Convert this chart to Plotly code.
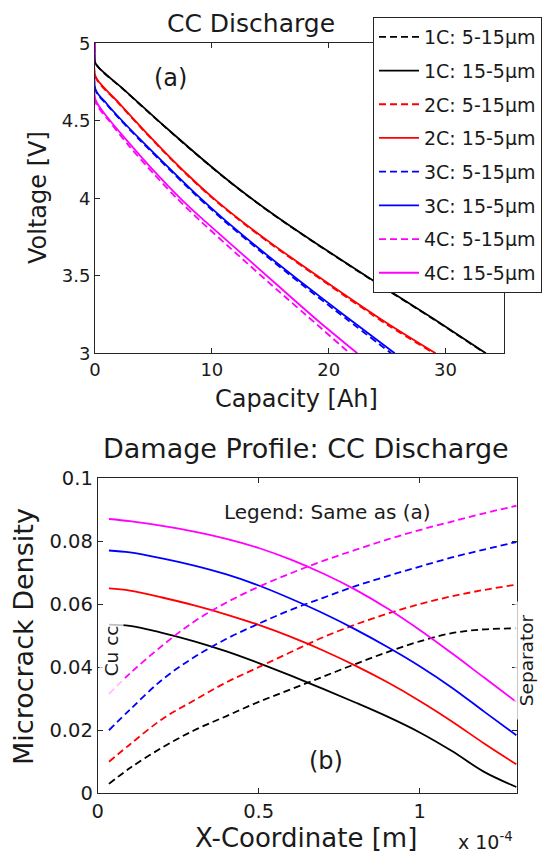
import plotly.graph_objects as go

W, H = 548, 857
FONT = "DejaVu Sans"
TXT = "#1a1a1a"

# ---------------- (a) CC discharge: capacity [Ah] vs voltage [V] ----------------
names = ["1C: 5-15μm", "1C: 15-5μm", "2C: 5-15μm", "2C: 15-5μm",
         "3C: 5-15μm", "3C: 15-5μm", "4C: 5-15μm", "4C: 15-5μm"]
colors = ["#000000", "#000000", "#ff0000", "#ff0000",
          "#0000ff", "#0000ff", "#ff00ff", "#ff00ff"]
dashed = [True, False, True, False, True, False, True, False]

cap_1c_a = [0, 0.05, 2.5, 5.5, 8.5, 11, 13, 15.4, 19, 23.6, 29, 33.4]
v_1c_a = [5.0, 4.87, 4.698, 4.493, 4.295, 4.137, 4.019, 3.887, 3.703, 3.477, 3.218, 3.0]
cap_1c_b = [0, 0.05, 2.5, 5.5, 8.5, 11, 13, 15.4, 19, 23.6, 29, 33.45]
v_1c_b = [5.0, 4.87, 4.70, 4.495, 4.297, 4.139, 4.021, 3.889, 3.705, 3.48, 3.221, 3.0]

cap_2c_a = [0, 0.05, 2, 4, 6, 8, 10, 12, 15, 20, 25, 29.0]
v_2c_a = [5.0, 4.78, 4.614, 4.45, 4.292, 4.142, 4.004, 3.88, 3.708, 3.442, 3.185, 3.0]
cap_2c_b = [0, 0.05, 2, 4, 6, 8, 10, 12, 15, 20, 25, 29.15]
v_2c_b = [5.0, 4.785, 4.619, 4.455, 4.297, 4.147, 4.009, 3.885, 3.714, 3.449, 3.194, 3.0]

cap_3c_a = [0, 0.05, 1, 2.2, 4, 6, 8.6, 11, 14, 17.6, 21.5, 25.35]
v_3c_a = [5.0, 4.695, 4.605, 4.504, 4.363, 4.213, 4.022, 3.858, 3.668, 3.45, 3.222, 3.0]
cap_3c_b = [0, 0.05, 1, 2.2, 4, 6, 8.6, 11, 14, 17.6, 21.5, 25.65]
v_3c_b = [5.0, 4.70, 4.61, 4.51, 4.37, 4.22, 4.03, 3.867, 3.678, 3.462, 3.236, 3.0]

cap_4c_a = [0, 0.05, 1.2, 3, 5, 7, 9, 12, 15.5, 19, 21.8]
v_4c_a = [5.0, 4.62, 4.50, 4.33, 4.16, 4.0, 3.855, 3.65, 3.415, 3.185, 3.0]
cap_4c_b = [0, 0.05, 1.3, 3, 5, 7.3, 9, 12, 15.5, 19, 22.45]
v_4c_b = [5.0, 4.635, 4.50, 4.35, 4.18, 4.0, 3.88, 3.68, 3.447, 3.215, 3.0]

caps = [cap_1c_a, cap_1c_b, cap_2c_a, cap_2c_b, cap_3c_a, cap_3c_b, cap_4c_a, cap_4c_b]
volts = [v_1c_a, v_1c_b, v_2c_a, v_2c_b, v_3c_a, v_3c_b, v_4c_a, v_4c_b]

cap_ticks = [0, 10, 20, 30]
volt_ticks = [3, 3.5, 4, 4.5, 5]
volt_ticktext = ["3", "3.5", "4", "4.5", "5"]

# ---------------- (b) damage profile: x-coordinate [m] vs microcrack density ----------------
x_coord = [0.035e-4, 0.1e-4, 0.2e-4, 0.3e-4, 0.4e-4, 0.5e-4, 0.6e-4,
           0.7e-4, 0.8e-4, 0.9e-4, 1.0e-4, 1.1e-4, 1.2e-4, 1.3e-4]

d_1c_a = [0.003, 0.008, 0.0145, 0.0200, 0.0245, 0.0290, 0.0330, 0.0370, 0.0410, 0.0448, 0.0482, 0.0508, 0.0520, 0.0523]
d_1c_b = [0.0535, 0.0531, 0.0509, 0.0482, 0.0450, 0.0413, 0.0373, 0.0331, 0.0288, 0.0243, 0.0193, 0.0134, 0.0068, 0.0020]
d_2c_a = [0.010, 0.0155, 0.0235, 0.0295, 0.0352, 0.0400, 0.0448, 0.0495, 0.0535, 0.0570, 0.0600, 0.0625, 0.0645, 0.0662]
d_2c_b = [0.0650, 0.0643, 0.0621, 0.0596, 0.0567, 0.0534, 0.0496, 0.0453, 0.0405, 0.0352, 0.0293, 0.0228, 0.0158, 0.0092]
d_3c_a = [0.0200, 0.0265, 0.0360, 0.0432, 0.0490, 0.0538, 0.0582, 0.0620, 0.0657, 0.0689, 0.0719, 0.0748, 0.0773, 0.0797]
d_3c_b = [0.0770, 0.0764, 0.0745, 0.0722, 0.0694, 0.0659, 0.0617, 0.0571, 0.0520, 0.0464, 0.0403, 0.0335, 0.0259, 0.0184]
d_4c_a = [0.0315, 0.0380, 0.0468, 0.0545, 0.0605, 0.0655, 0.0698, 0.0737, 0.0772, 0.0805, 0.0835, 0.0862, 0.0888, 0.0912]
d_4c_b = [0.0870, 0.0863, 0.0848, 0.0830, 0.0807, 0.0778, 0.0741, 0.0697, 0.0646, 0.0586, 0.0518, 0.0444, 0.0367, 0.0290]
dens = [d_1c_a, d_1c_b, d_2c_a, d_2c_b, d_3c_a, d_3c_b, d_4c_a, d_4c_b]

xc_ticks = [0, 0.5e-4, 1e-4]
xc_ticktext = ["0", "0.5", "1"]
dens_ticks = [0, 0.02, 0.04, 0.06, 0.08, 0.1]
dens_ticktext = ["0", "0.02", "0.04", "0.06", "0.08", "0.1"]

DASH = "7px,4px"

fig = go.Figure()
for i in range(8):
    fig.add_trace(go.Scatter(
        x=caps[i], y=volts[i], mode="lines", name=names[i], legendgroup="g%d" % i,
        line=dict(color=colors[i], width=1.8, dash=DASH if dashed[i] else "solid",
                  shape="spline", smoothing=0.7),
        xaxis="x", yaxis="y"))
for i in range(8):
    fig.add_trace(go.Scatter(
        x=x_coord, y=dens[i], mode="lines", name=names[i], legendgroup="g%d" % i,
        showlegend=False,
        line=dict(color=colors[i], width=1.8, dash=DASH if dashed[i] else "solid",
                  shape="spline", smoothing=1.0),
        xaxis="x2", yaxis="y2"))


def px_x(p):
    return p / W


def px_y(p):
    return 1 - p / H


axis_common = dict(showline=True, linecolor="#262626", linewidth=1, mirror="ticks",
                   ticks="inside", ticklen=5, tickcolor="#262626", showgrid=False,
                   zeroline=False)

fig.update_layout(
    width=W, height=H,
    margin=dict(l=0, r=0, t=0, b=0, autoexpand=False),
    paper_bgcolor="white", plot_bgcolor="white",
    font=dict(family=FONT, color=TXT),
    xaxis=dict(domain=[px_x(95), px_x(504)], range=[0, 35], tickvals=cap_ticks, anchor="y",
               tickfont=dict(family=FONT, color=TXT, size=18), **axis_common),
    yaxis=dict(domain=[px_y(353.3), px_y(43.3)], range=[3, 5], tickvals=volt_ticks,
               ticktext=volt_ticktext, anchor="x",
               tickfont=dict(family=FONT, color=TXT, size=18), **axis_common),
    xaxis2=dict(domain=[px_x(97.7), px_x(517.3)], range=[0, 1.303e-4], tickvals=xc_ticks,
                ticktext=xc_ticktext, anchor="y2",
                tickfont=dict(family=FONT, color=TXT, size=19.5), **axis_common),
    yaxis2=dict(domain=[px_y(793.3), px_y(478)], range=[0, 0.1], tickvals=dens_ticks,
                ticktext=dens_ticktext, anchor="x2",
                tickfont=dict(family=FONT, color=TXT, size=19.5), **axis_common),
    legend=dict(x=px_x(373), y=px_y(17), xanchor="left", yanchor="top",
                bgcolor="white", bordercolor="#262626", borderwidth=1,
                font=dict(family=FONT, size=19, color=TXT), tracegroupgap=6,
                itemwidth=40),
    showlegend=True,
)


def ann(text, px, py, size, angle=0, **kw):
    return dict(text=text, x=px_x(px), y=px_y(py), xref="paper", yref="paper",
                xanchor="center", yanchor="middle", showarrow=False,
                font=dict(family=FONT, size=size, color=TXT), textangle=angle, **kw)


NB = "\u00a0"
annotations = [
    ann("CC Discharge", 251, 24, 25),
    ann("(a)", 170, 78, 24),
    ann("Voltage [V]", 38, 198, 24, -90),
    ann("Capacity [Ah]", 296, 399, 24),
    ann("Damage Profile: CC Discharge", 306, 448, 27),
    ann("Legend: Same as (a)", 327.5, 512, 20),
    ann("(b)", 326, 761, 24),
    ann("Microcrack Density", 23, 637, 27, -90),
    ann("X-Coordinate [m]", 306, 838, 26),
    ann("x 10<sup>-4</sup>", 485, 841, 19),
    ann(NB * 3 + "Cu cc" + NB * 3, 111, 651, 18.5, -90,
        bgcolor="rgba(255,255,255,0.75)", borderpad=1),
    ann(NB * 2 + "Separator" + NB * 2, 526, 661, 18.5, -90,
        bgcolor="rgba(255,255,255,0.75)", borderpad=1),
]
fig.update_layout(annotations=annotations)

fig.write_html("out.html")
